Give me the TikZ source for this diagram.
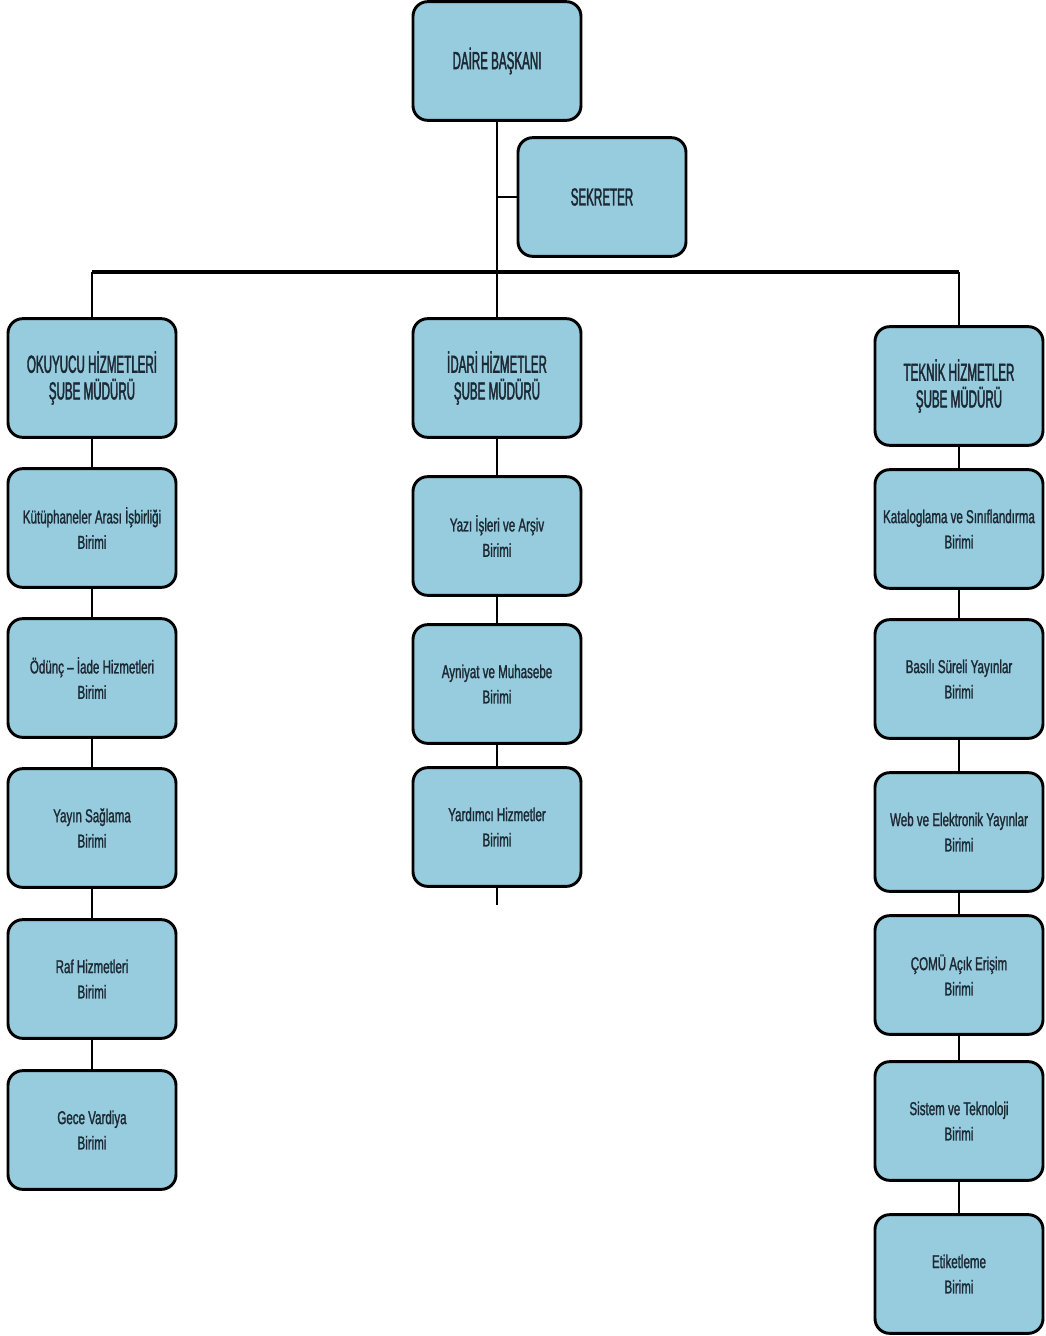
\documentclass[tikz,border=0pt]{standalone}
\usepackage{fontspec}
\usepackage{tikz}
\setmainfont{Liberation Sans}
\newfontfamily\headfont[FakeStretch=0.47,FakeBold=1.6]{Liberation Sans}
\newfontfamily\unitfont[FakeStretch=0.62,FakeBold=1.2]{Liberation Sans}
\definecolor{boxblue}{RGB}{150,204,222}
\definecolor{boxtext}{RGB}{28,40,50}
\tikzset{
	box/.style={draw=black, line width=2.2pt, rounded corners=11pt, fill=boxblue,
		text=boxtext, align=center, inner sep=0pt,
		minimum width=126pt, minimum height=89pt},
	headbox/.style={box, font=\headfont\fontsize{18.5}{20}\selectfont},
	unitbox/.style={box, font=\unitfont\fontsize{14}{19}\selectfont},
	link/.style={draw=black, line width=1.5pt},
	buslink/.style={draw=black, line width=2.6pt}
}

\begin{document}
\begin{tikzpicture}[x=0.75pt, y=-0.75pt]
	\useasboundingbox (0,0) rectangle (1046,1336);
	% top
	\node[headbox] (daire) at (497,61) {DAİRE BAŞKANI};
	\node[headbox] (sekreter) at (602,197) {SEKRETER};
	\coordinate (busL) at (92,272);
	\coordinate (busM) at (497,272);
	\coordinate (busR) at (959,272);
	% left column
	\node[headbox] (okuyucu) at (92,378) {OKUYUCU HİZMETLERİ\\ŞUBE MÜDÜRÜ};
	\node[unitbox] (kutup) at (92,528) {Kütüphaneler Arası İşbirliği\\Birimi};
	\node[unitbox] (odunc) at (92,678) {Ödünç – İade Hizmetleri\\Birimi};
	\node[unitbox] (yayin) at (92,828) {Yayın Sağlama\\Birimi};
	\node[unitbox] (raf) at (92,979) {Raf Hizmetleri\\Birimi};
	\node[unitbox] (gece) at (92,1130) {Gece Vardiya\\Birimi};
	% middle column
	\node[headbox] (idari) at (497,378) {İDARİ HİZMETLER\\ŞUBE MÜDÜRÜ};
	\node[unitbox] (yazi) at (497,536) {Yazı İşleri ve Arşiv\\Birimi};
	\node[unitbox] (ayniyat) at (497,684) {Ayniyat ve Muhasebe\\Birimi};
	\node[unitbox] (yardimci) at (497,827) {Yardımcı Hizmetler\\Birimi};
	\coordinate (idtail) at (497,905);
	% right column
	\node[headbox] (teknik) at (959,386) {TEKNİK HİZMETLER\\ŞUBE MÜDÜRÜ};
	\node[unitbox] (katalog) at (959,529) {Kataloglama ve Sınıflandırma\\Birimi};
	\node[unitbox] (basili) at (959,679) {Basılı Süreli Yayınlar\\Birimi};
	\node[unitbox] (web) at (959,832) {Web ve Elektronik Yayınlar\\Birimi};
	\node[unitbox] (comu) at (959,975) {ÇOMÜ Açık Erişim\\Birimi};
	\node[unitbox] (sistem) at (959,1121) {Sistem ve Teknoloji\\Birimi};
	\node[unitbox] (etiket) at (959,1274) {Etiketleme\\Birimi};
	% connectors
	\draw[link] (daire.south) -- (busM);
	\draw[link] (sekreter.west) -- (sekreter.west -| daire.south);
	\draw[buslink] (busL) -- (busR);
	\draw[link] (busL) -- (okuyucu.north);
	\draw[link] (busM) -- (idari.north);
	\draw[link] (busR) -- (teknik.north);
	\foreach \a/\b in {okuyucu/kutup, kutup/odunc, odunc/yayin, yayin/raf, raf/gece,
		idari/yazi, yazi/ayniyat, ayniyat/yardimci,
		teknik/katalog, katalog/basili, basili/web, web/comu, comu/sistem, sistem/etiket}
		\draw[link] (\a.south) -- (\b.north);
	\draw[link] (yardimci.south) -- (idtail);
\end{tikzpicture}
\end{document}
